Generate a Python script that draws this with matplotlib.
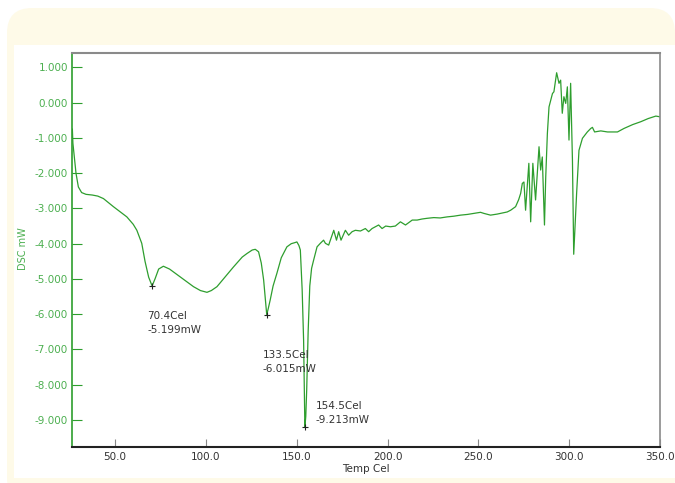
import matplotlib
matplotlib.use("Agg")
import matplotlib.pyplot as plt
from matplotlib.patches import FancyBboxPatch, Rectangle

# DSC trace
temp = [26.5, 26.8, 27.5, 28.5, 29.8, 31.6, 34.0, 37.5, 40.5, 43.6, 49.1, 56.5, 60.0, 62.0,
        64.7, 66.5, 68.5, 70.4, 72.0, 74.0, 76.6, 80.0, 85.8, 93.2, 97.0, 100.6, 103.0, 106.1,
        110.0, 115.2, 120.0, 122.6, 125.5, 127.2, 129.0, 130.5, 131.8, 132.8, 133.5, 134.3,
        135.4, 137.0, 139.1, 141.5, 144.6, 147.0, 149.0, 150.1, 151.2, 152.0, 153.0, 153.8,
        154.2, 154.5, 155.0, 155.5, 156.3, 157.2, 158.2, 159.3, 161.2, 163.0, 164.8, 165.8,
        167.6, 170.4, 171.9, 173.1, 174.4, 176.8, 178.6, 180.5, 182.3, 185.1, 187.8, 189.6,
        191.5, 195.1, 197.0, 199.0, 201.6, 204.3, 207.1, 209.9, 213.6, 216.3, 219.0, 221.8,
        225.5, 229.0, 232.8, 236.5, 240.2, 244.0, 247.5, 251.2, 253.0, 256.7, 260.4, 262.2,
        265.9, 267.8, 270.5, 272.2, 273.3, 274.2, 275.1, 276.0, 276.9, 277.8, 278.8, 280.0,
        281.5, 283.4, 284.3, 285.2, 286.4, 287.1, 288.0, 288.9, 290.8, 291.6, 293.1, 294.4,
        295.3, 296.2, 297.1, 298.1, 299.0, 299.9, 300.8, 301.8, 302.5, 304.1, 305.4, 307.3,
        310.0, 311.9, 312.8, 314.0, 317.4, 321.1, 326.6, 330.2, 335.0, 339.4, 343.5, 347.7,
        350.0]
dsc = [-0.75, -1.15, -1.5, -2.0, -2.39, -2.55, -2.6, -2.62, -2.65, -2.72, -2.95, -3.24, -3.45, -3.62,
       -3.99, -4.5, -4.95, -5.199, -5.0, -4.72, -4.64, -4.72, -4.94, -5.22, -5.33, -5.38, -5.33, -5.22,
       -4.98, -4.66, -4.38, -4.28, -4.18, -4.16, -4.23, -4.55, -5.03, -5.6, -6.015, -5.85,
       -5.6, -5.2, -4.84, -4.4, -4.09, -4.0, -3.97, -3.95, -4.05, -4.18, -5.3, -6.74,
       -8.2, -9.213, -8.9, -8.15, -6.5, -5.2, -4.7, -4.47, -4.09, -3.99, -3.90, -3.99,
       -4.04, -3.62, -3.90, -3.66, -3.90, -3.62, -3.76, -3.66, -3.62, -3.64, -3.57, -3.66,
       -3.57, -3.47, -3.57, -3.50, -3.52, -3.50, -3.38, -3.47, -3.33, -3.33, -3.30, -3.28,
       -3.26, -3.27, -3.24, -3.22, -3.19, -3.17, -3.14, -3.11, -3.14, -3.19, -3.16, -3.14,
       -3.10, -3.05, -2.95, -2.75, -2.57, -2.29, -2.25, -3.05, -2.39, -1.72, -3.38, -1.72,
       -2.76, -1.25, -1.91, -1.54, -3.47, -2.1, -0.87, -0.12, 0.26, 0.31, 0.85, 0.55,
       0.64, -0.30, 0.17, -0.02, 0.45, -1.06, 0.55, -1.63, -4.3, -2.57, -1.35, -1.01,
       -0.83, -0.73, -0.70, -0.83, -0.80, -0.83, -0.83, -0.73, -0.62, -0.54, -0.45, -0.38,
       -0.40]

# marked peaks
peak_temp = [70.4, 133.5, 154.5]
peak_dsc = [-5.199, -6.015, -9.213]
peak_text = ["70.4Cel\n-5.199mW", "133.5Cel\n-6.015mW", "154.5Cel\n-9.213mW"]
label_x = [67.6, 131.2, 160.3]
label_y = [-6.26, -7.35, -8.8]

yticks = [1, 0, -1, -2, -3, -4, -5, -6, -7, -8, -9]
xticks = [50, 100, 150, 200, 250, 300, 350]

W, H = 675, 483
green = "#2e9e2e"
fig = plt.figure(figsize=(W / 100, H / 100), dpi=100)
fig.patch.set_facecolor("white")

# cream panel with white inner area
fig.patches.append(FancyBboxPatch((7, -20), 668, 475 + 20, boxstyle="round,pad=0,rounding_size=25",
                                  transform=None, facecolor="#fefae8", edgecolor="none", zorder=-5))
fig.patches.append(Rectangle((14, 5), 670, 433, transform=None,
                             facecolor="white", edgecolor="none", zorder=-4))

ax = fig.add_axes([72 / W, 1 - 446.7 / H, (660 - 72) / W, (446.7 - 53) / H])
ax.set_facecolor("white")
ax.plot(temp, dsc, color=green, lw=0.9)
ax.plot(peak_temp, peak_dsc, "+", color="#222222", ms=5, mew=0.8)
for tx, ty, s in zip(label_x, label_y, peak_text):
    ax.text(tx, ty, s, fontsize=7.5, color="#333333", va="center", ha="left", linespacing=1.5)

ax.set_xlim(26.3, 350)
ax.set_ylim(-9.76, 1.41)
ax.set_xticks(xticks)
ax.set_xticklabels(["%.1f" % v for v in xticks])
ax.set_yticks(yticks)
ax.set_yticklabels(["%.3f" % v for v in yticks])
ax.tick_params(axis="y", direction="in", length=7, color=green, labelcolor="#4caf50",
               labelsize=7.5, pad=3)
ax.tick_params(axis="x", direction="in", length=6, color="#888888", labelcolor="#333333",
               labelsize=7.5, pad=3.5)

ax.spines["left"].set_color(green)
ax.spines["left"].set_linewidth(1.2)
ax.spines["bottom"].set_color("#222222")
ax.spines["bottom"].set_linewidth(1.5)
ax.spines["top"].set_color("#8a8a8a")
ax.spines["top"].set_linewidth(1.5)
ax.spines["right"].set_color("#8a8a8a")
ax.spines["right"].set_linewidth(1.2)

fig.text(23 / W, 1 - 249 / H, "DSC mW", rotation=90, color="#4caf50", fontsize=7,
         ha="center", va="center")
fig.text(366 / W, 1 - 469 / H, "Temp Cel", color="#333333", fontsize=7.5,
         ha="center", va="center")

fig.savefig("out.png", dpi=100)
